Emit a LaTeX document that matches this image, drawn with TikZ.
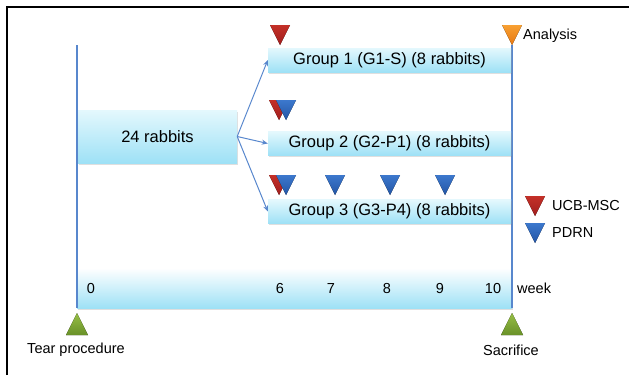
\documentclass[tikz,border=0pt]{standalone}
\usepackage{fontspec}
\setmainfont{Liberation Sans}
\usetikzlibrary{arrows.meta,positioning,shadows}
\definecolor{boxtop}{RGB}{228,248,253}
\definecolor{boxbot}{RGB}{158,225,246}
\definecolor{lineblue}{RGB}{88,135,205}
\definecolor{mscred}{RGB}{196,48,40}
\definecolor{mscdark}{RGB}{160,30,30}
\definecolor{pdrnblue}{RGB}{60,120,205}
\definecolor{pdrndark}{RGB}{35,85,165}
\definecolor{anaorange}{RGB}{248,160,50}
\definecolor{anadark}{RGB}{230,120,20}
\definecolor{markgreen}{RGB}{150,190,70}
\definecolor{markdark}{RGB}{105,145,40}
\tikzset{
  % text sizes
  bigtxt/.style={font=\fontsize{16.5}{19}\selectfont},
  smalltxt/.style={font=\fontsize{14.5}{17}\selectfont},
  % light blue boxes
  grpbox/.style={
    top color=boxtop,
    bottom color=boxbot,
    inner sep=0pt,
    bigtxt,
    drop shadow={shadow xshift=1.2pt, shadow yshift=-1.5pt, opacity=0.25}
  },
  % time lines
  tline/.style={lineblue, line width=1.4pt},
  % arrows
  arr/.style={-{Stealth[length=6pt,width=5pt]}, lineblue, line width=1pt},
  % markers
  redmark/.style={top color=mscred, bottom color=mscdark},
  bluemark/.style={top color=pdrnblue, bottom color=pdrndark},
  orangemark/.style={top color=anaorange, bottom color=anadark},
  greenmark/.style={top color=markgreen, bottom color=markdark},
}

\begin{document}
\begin{tikzpicture}[x=1pt, y=-1pt]
    \useasboundingbox (0,0) rectangle (629,375);
    % frame
    \draw[black, line width=2.5pt] (7,375) -- (7,7) -- (629,7);

    % timeline bar
    \node[grpbox, top color=white, minimum width=435pt, minimum height=40pt] (bar) at (294.5,288) {};
    \draw[tline] (77,45) -- (77,308);
    \draw[tline] (512,45) -- (512,308);

    % boxes
    \node[grpbox, minimum width=159pt, minimum height=53pt] (all) at (157.5,136.5) {24 rabbits};
    \node[grpbox, minimum width=243pt, minimum height=24pt] (g1) at (389.5,60) {Group 1 (G1-S) (8 rabbits)};
    \node[grpbox, minimum width=243pt, minimum height=24pt] (g2) at (389.5,143.5) {Group 2 (G2-P1) (8 rabbits)};
    \node[grpbox, minimum width=243pt, minimum height=24pt] (g3) at (389.5,211.5) {Group 3 (G3-P4) (8 rabbits)};

    \draw[arr] (all.east) -- (g1.west);
    \draw[arr] (all.east) -- (g2.west);
    \draw[arr] (all.east) -- (g3.west);

    % weeks
    \node[smalltxt] (w0) at (91,289) {0};
    \node[smalltxt] (w6) at (280,289) {6};
    \node[smalltxt] (w7) at (331,289) {7};
    \node[smalltxt] (w8) at (387,289) {8};
    \node[smalltxt] (w9) at (440,289) {9};
    \node[smalltxt] (w10) at (493,289) {10};
    \node[smalltxt, anchor=west, inner sep=0pt] (week) at (517,288) {week};

    % injections
    \fill[redmark] (270,25) -- (290,25) -- (280,45) -- cycle;
    \fill[orangemark] (502,25) -- (522,25) -- (512,45) -- cycle;
    \fill[redmark] (269,100) -- (289,100) -- (279,120) -- cycle;
    \fill[bluemark] (276,100) -- (296,100) -- (286,120) -- cycle;
    \fill[redmark] (269,175) -- (289,175) -- (279,195) -- cycle;
    \fill[bluemark] (276,175) -- (296,175) -- (286,195) -- cycle;
    \fill[bluemark] (325,175) -- (345,175) -- (335,195) -- cycle;
    \fill[bluemark] (380,175) -- (400,175) -- (390,195) -- cycle;
    \fill[bluemark] (435,175) -- (455,175) -- (445,195) -- cycle;

    % legend
    \fill[redmark] (525,196) -- (545,196) -- (535,216) -- cycle;
    \fill[bluemark] (525,223) -- (545,223) -- (535,243) -- cycle;
    \node[smalltxt, anchor=west, inner sep=0pt] (msc) at (552,206) {UCB-MSC};
    \node[smalltxt, anchor=west, inner sep=0pt] (pdrn) at (552,233) {PDRN};
    \node[smalltxt, anchor=west, inner sep=0pt] (ana) at (523,36) {Analysis};

    % start and end
    \fill[greenmark] (77,313) -- (88,335) -- (66,335) -- cycle;
    \fill[greenmark] (512,313) -- (523,335) -- (501,335) -- cycle;
    \node[smalltxt] (tear) at (76,350) {Tear procedure};
    \node[smalltxt] (sac) at (511,350) {Sacrifice};
\end{tikzpicture}
\end{document}
